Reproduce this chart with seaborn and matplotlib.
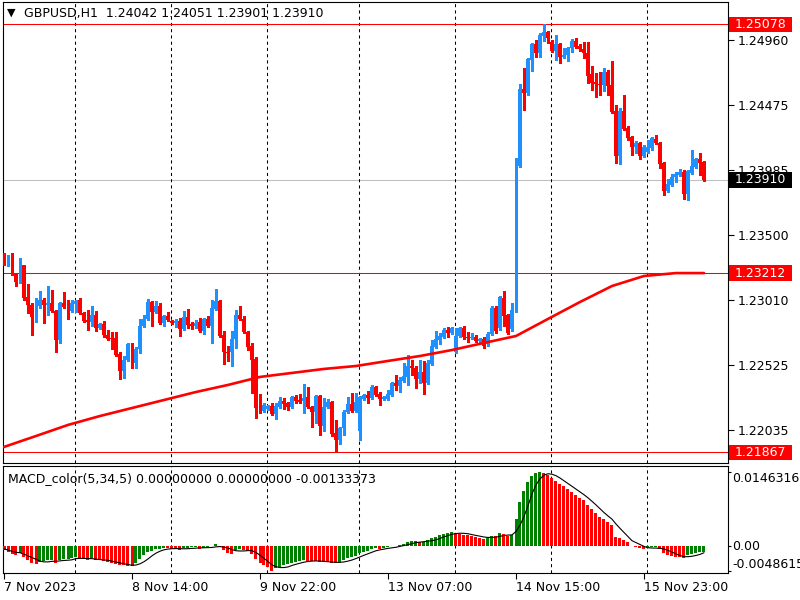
import numpy as np
import pandas as pd
import matplotlib
matplotlib.use("Agg")
import matplotlib.pyplot as plt
import matplotlib.transforms as mtransforms
from matplotlib.patches import Rectangle
import seaborn as sns

# -------------------------------
# Data: GBPUSD H1 candles (bar 0 = 7 Nov 2023 06:00)
# -------------------------------
open_ = [
    1.23348, 1.23288, 1.23340, 1.23213, 1.23145, 1.23273, 1.23033, 1.22973, 1.22883, 1.22965,
    1.23010, 1.22973, 1.22988, 1.22928, 1.22710, 1.22988, 1.22958, 1.22928, 1.22980, 1.23010,
    1.22913, 1.22860, 1.22845, 1.22898, 1.22800, 1.22830, 1.22748, 1.22725, 1.22725, 1.22605,
    1.22478, 1.22560, 1.22680, 1.22538, 1.22643, 1.22815, 1.22868, 1.22995, 1.22920, 1.22965,
    1.22838, 1.22890, 1.22853, 1.22838, 1.22853, 1.22793, 1.22883, 1.22830, 1.22815, 1.22845,
    1.22778, 1.22868, 1.22815, 1.22943, 1.23003, 1.22748, 1.22620, 1.22620, 1.22718, 1.22898,
    1.22868, 1.22770, 1.22665, 1.22568, 1.22208, 1.22178, 1.22193, 1.22215, 1.22155, 1.22208,
    1.22253, 1.22238, 1.22208, 1.22283, 1.22260, 1.22253, 1.22283, 1.22208, 1.22170, 1.22290,
    1.22065, 1.22208, 1.22245, 1.22013, 1.21960, 1.22050, 1.22170, 1.22230, 1.22178, 1.22028,
    1.22268, 1.22298, 1.22275, 1.22358, 1.22305, 1.22268, 1.22268, 1.22298, 1.22388, 1.22365,
    1.22403, 1.22433, 1.22515, 1.22500, 1.22418, 1.22470, 1.22388, 1.22530, 1.22658, 1.22710,
    1.22733, 1.22785, 1.22763, 1.22620, 1.22740, 1.22800, 1.22733, 1.22725, 1.22733, 1.22703,
    1.22718, 1.22680, 1.22755, 1.22950, 1.22800, 1.23025, 1.22898, 1.22793, 1.22928, 1.24015,
    1.24593, 1.24563, 1.24810, 1.24930, 1.24863, 1.24990, 1.25020, 1.24945, 1.24878, 1.24930,
    1.24833, 1.24848, 1.24900, 1.24953, 1.24915, 1.24893, 1.24863, 1.24705, 1.24645, 1.24630,
    1.24623, 1.24720, 1.24623, 1.24428, 1.24090, 1.24428, 1.24300, 1.24233, 1.24158, 1.24188,
    1.24090, 1.24120, 1.24150, 1.24218, 1.24188, 1.24038, 1.23828, 1.23873, 1.23933, 1.23948,
    1.23970, 1.23805, 1.23963, 1.24008, 1.24068, 1.24042,
]
high_ = [
    1.23363, 1.23348, 1.23363, 1.23213, 1.23325, 1.23273, 1.23130, 1.22988, 1.23025, 1.23078,
    1.23025, 1.23115, 1.23085, 1.22935, 1.22995, 1.23070, 1.23010, 1.23010, 1.23010, 1.23025,
    1.22920, 1.22935, 1.22965, 1.22928, 1.22838, 1.22853, 1.22785, 1.22770, 1.22770, 1.22620,
    1.22590, 1.22688, 1.22688, 1.22658, 1.22868, 1.22898, 1.23018, 1.23003, 1.23003, 1.22988,
    1.22898, 1.22920, 1.22860, 1.22868, 1.22875, 1.22928, 1.22943, 1.22845, 1.22860, 1.22875,
    1.22875, 1.22890, 1.23010, 1.23093, 1.23010, 1.22778, 1.22665, 1.22778, 1.22935, 1.22965,
    1.22890, 1.22778, 1.22688, 1.22583, 1.22305, 1.22238, 1.22223, 1.22238, 1.22238, 1.22283,
    1.22275, 1.22245, 1.22290, 1.22298, 1.22305, 1.22380, 1.22358, 1.22215, 1.22298, 1.22298,
    1.22275, 1.22268, 1.22253, 1.22110, 1.22058, 1.22185, 1.22283, 1.22313, 1.22313, 1.22290,
    1.22305, 1.22328, 1.22373, 1.22365, 1.22320, 1.22290, 1.22335, 1.22395, 1.22448, 1.22433,
    1.22538, 1.22598, 1.22560, 1.22515, 1.22560, 1.22553, 1.22560, 1.22710, 1.22778, 1.22763,
    1.22800, 1.22808, 1.22808, 1.22800, 1.22808, 1.22815, 1.22770, 1.22763, 1.22748, 1.22725,
    1.22733, 1.22770, 1.22965, 1.22965, 1.23040, 1.23078, 1.22905, 1.22988, 1.24075, 1.24630,
    1.24750, 1.24825, 1.24938, 1.24960, 1.25013, 1.25078, 1.25028, 1.24960, 1.24998, 1.24938,
    1.24900, 1.24908, 1.24968, 1.24975, 1.24930, 1.24945, 1.24945, 1.24765, 1.24713, 1.24720,
    1.24750, 1.24735, 1.24803, 1.24473, 1.24450, 1.24548, 1.24315, 1.24240, 1.24203, 1.24195,
    1.24173, 1.24210, 1.24233, 1.24248, 1.24195, 1.24045, 1.23918, 1.23955, 1.23970, 1.23993,
    1.23985, 1.23985, 1.24135, 1.24075, 1.24113, 1.24051,
]
low_ = [
    1.23273, 1.23265, 1.23198, 1.23115, 1.23138, 1.23010, 1.22913, 1.22748, 1.22845, 1.22950,
    1.22838, 1.22898, 1.22920, 1.22620, 1.22688, 1.22950, 1.22868, 1.22920, 1.22920, 1.22905,
    1.22845, 1.22785, 1.22815, 1.22778, 1.22793, 1.22733, 1.22710, 1.22643, 1.22590, 1.22418,
    1.22425, 1.22553, 1.22500, 1.22500, 1.22613, 1.22808, 1.22860, 1.22815, 1.22913, 1.22830,
    1.22815, 1.22853, 1.22830, 1.22808, 1.22740, 1.22785, 1.22800, 1.22793, 1.22800, 1.22770,
    1.22755, 1.22808, 1.22688, 1.22935, 1.22733, 1.22530, 1.22553, 1.22515, 1.22650, 1.22860,
    1.22763, 1.22635, 1.22313, 1.22125, 1.22163, 1.22170, 1.22185, 1.22148, 1.22118, 1.22200,
    1.22193, 1.22185, 1.22200, 1.22238, 1.22238, 1.22163, 1.22200, 1.22058, 1.22088, 1.21998,
    1.22028, 1.22200, 1.21990, 1.21867, 1.21930, 1.21998, 1.22163, 1.22170, 1.22170, 1.21960,
    1.22260, 1.22238, 1.22268, 1.22290, 1.22223, 1.22260, 1.22260, 1.22290, 1.22335, 1.22320,
    1.22395, 1.22373, 1.22448, 1.22350, 1.22388, 1.22305, 1.22380, 1.22523, 1.22650, 1.22680,
    1.22725, 1.22733, 1.22755, 1.22613, 1.22733, 1.22718, 1.22695, 1.22718, 1.22695, 1.22695,
    1.22650, 1.22665, 1.22748, 1.22763, 1.22785, 1.22815, 1.22755, 1.22778, 1.22920, 1.24008,
    1.24435, 1.24548, 1.24728, 1.24833, 1.24833, 1.24953, 1.24938, 1.24870, 1.24810, 1.24788,
    1.24825, 1.24803, 1.24870, 1.24900, 1.24878, 1.24825, 1.24638, 1.24585, 1.24533, 1.24548,
    1.24578, 1.24548, 1.24413, 1.24038, 1.24030, 1.24285, 1.24210, 1.24098, 1.24113, 1.24068,
    1.24083, 1.24113, 1.24135, 1.24180, 1.24000, 1.23798, 1.23820, 1.23865, 1.23895, 1.23940,
    1.23768, 1.23760, 1.23955, 1.24000, 1.23948, 1.23901,
]
close_ = [
    1.23280, 1.23340, 1.23205, 1.23145, 1.23273, 1.23025, 1.22973, 1.22883, 1.22965, 1.23010,
    1.22973, 1.22988, 1.22928, 1.22710, 1.22988, 1.22958, 1.22928, 1.22988, 1.23003, 1.22913,
    1.22853, 1.22845, 1.22898, 1.22800, 1.22830, 1.22748, 1.22718, 1.22718, 1.22598, 1.22478,
    1.22560, 1.22680, 1.22538, 1.22643, 1.22815, 1.22868, 1.22995, 1.22920, 1.22965, 1.22838,
    1.22890, 1.22860, 1.22838, 1.22853, 1.22793, 1.22883, 1.22823, 1.22815, 1.22838, 1.22778,
    1.22868, 1.22815, 1.22950, 1.23003, 1.22740, 1.22620, 1.22613, 1.22718, 1.22898, 1.22868,
    1.22770, 1.22658, 1.22560, 1.22200, 1.22178, 1.22223, 1.22215, 1.22155, 1.22215, 1.22253,
    1.22230, 1.22208, 1.22283, 1.22253, 1.22245, 1.22275, 1.22208, 1.22170, 1.22290, 1.22065,
    1.22208, 1.22245, 1.22005, 1.21960, 1.22050, 1.22170, 1.22230, 1.22178, 1.22245, 1.22283,
    1.22298, 1.22275, 1.22358, 1.22298, 1.22268, 1.22283, 1.22305, 1.22388, 1.22365, 1.22410,
    1.22440, 1.22515, 1.22500, 1.22418, 1.22470, 1.22388, 1.22538, 1.22665, 1.22718, 1.22740,
    1.22785, 1.22763, 1.22800, 1.22740, 1.22800, 1.22733, 1.22725, 1.22733, 1.22703, 1.22718,
    1.22665, 1.22755, 1.22950, 1.22778, 1.23033, 1.22890, 1.22763, 1.22935, 1.24023, 1.24593,
    1.24563, 1.24818, 1.24930, 1.24863, 1.24998, 1.25020, 1.24975, 1.24878, 1.24930, 1.24833,
    1.24848, 1.24900, 1.24953, 1.24908, 1.24893, 1.24863, 1.24690, 1.24638, 1.24630, 1.24623,
    1.24720, 1.24615, 1.24420, 1.24090, 1.24428, 1.24293, 1.24225, 1.24158, 1.24188, 1.24090,
    1.24158, 1.24158, 1.24225, 1.24188, 1.24030, 1.23828, 1.23880, 1.23933, 1.23955, 1.23970,
    1.23805, 1.23978, 1.24015, 1.24068, 1.24038, 1.23910,
]

# moving average (red line), read every 8 bars
ma_bar = [0, 8, 16, 24, 32, 40, 48, 56, 64, 72, 80, 88, 96, 104, 112, 120, 128, 136, 144, 152, 160, 168, 175]
ma_value = [
    1.21908, 1.21990, 1.22073, 1.22140, 1.22200, 1.22260, 1.22320, 1.22373, 1.22433, 1.22463,
    1.22493, 1.22515, 1.22553, 1.22590, 1.22635, 1.22688, 1.22740, 1.22868, 1.22995, 1.23115,
    1.23190, 1.23212, 1.23212,
]

# MACD_color(5,34,5) histogram and signal line
macd_hist = [
    -0.00079, -0.00112, -0.00165, -0.00178, -0.00132, -0.00224, -0.00277, -0.00330, -0.00349, -0.00316,
    -0.00297, -0.00277, -0.00277, -0.00343, -0.00277, -0.00257, -0.00250, -0.00237, -0.00224, -0.00250,
    -0.00264, -0.00270, -0.00244, -0.00277, -0.00283, -0.00297, -0.00316, -0.00330, -0.00356, -0.00369,
    -0.00382, -0.00395, -0.00402, -0.00330, -0.00250, -0.00178, -0.00119, -0.00092, -0.00066, -0.00059,
    -0.00040, -0.00046, -0.00053, -0.00059, -0.00072, -0.00046, -0.00033, -0.00026, -0.00026, -0.00053,
    -0.00033, -0.00026, -0.00007, 0.00033, -0.00026, -0.00079, -0.00132, -0.00152, -0.00079, -0.00053,
    -0.00072, -0.00099, -0.00158, -0.00250, -0.00330, -0.00382, -0.00422, -0.00486, -0.00435, -0.00409,
    -0.00382, -0.00362, -0.00336, -0.00316, -0.00303, -0.00283, -0.00290, -0.00297, -0.00303, -0.00310,
    -0.00316, -0.00323, -0.00330, -0.00336, -0.00310, -0.00277, -0.00244, -0.00217, -0.00191, -0.00145,
    -0.00119, -0.00092, -0.00066, -0.00046, -0.00059, -0.00040, -0.00026, -0.00007, 0.00007, 0.00026,
    0.00046, 0.00072, 0.00092, 0.00099, 0.00072, 0.00086, 0.00119, 0.00152, 0.00185, 0.00211,
    0.00237, 0.00250, 0.00277, 0.00257, 0.00244, 0.00224, 0.00211, 0.00191, 0.00178, 0.00165,
    0.00145, 0.00165, 0.00204, 0.00191, 0.00250, 0.00231, 0.00204, 0.00224, 0.00527, 0.00876,
    0.01087, 0.01259, 0.01390, 0.01437, 0.01463, 0.01450, 0.01404, 0.01344, 0.01292, 0.01232,
    0.01180, 0.01127, 0.01068, 0.01015, 0.00956, 0.00903, 0.00817, 0.00731, 0.00652, 0.00580,
    0.00527, 0.00481, 0.00415, 0.00171, 0.00152, 0.00119, 0.00086, 0.00000, -0.00020, -0.00040,
    -0.00066, -0.00046, -0.00026, -0.00026, -0.00066, -0.00132, -0.00178, -0.00198, -0.00211, -0.00224,
    -0.00244, -0.00178, -0.00158, -0.00132, -0.00119, -0.00112,
]
macd_signal = [
    -0.00059, -0.00079, -0.00105, -0.00125, -0.00133, -0.00162, -0.00195, -0.00228, -0.00262, -0.00299,
    -0.00314, -0.00314, -0.00303, -0.00302, -0.00294, -0.00286, -0.00281, -0.00273, -0.00249, -0.00244,
    -0.00245, -0.00249, -0.00250, -0.00261, -0.00268, -0.00274, -0.00283, -0.00301, -0.00316, -0.00333,
    -0.00351, -0.00366, -0.00381, -0.00376, -0.00352, -0.00311, -0.00256, -0.00194, -0.00141, -0.00103,
    -0.00075, -0.00061, -0.00053, -0.00051, -0.00054, -0.00055, -0.00053, -0.00047, -0.00041, -0.00037,
    -0.00034, -0.00033, -0.00029, -0.00017, -0.00012, -0.00021, -0.00042, -0.00071, -0.00094, -0.00099,
    -0.00098, -0.00091, -0.00092, -0.00127, -0.00182, -0.00244, -0.00308, -0.00373, -0.00410, -0.00426,
    -0.00426, -0.00414, -0.00385, -0.00361, -0.00340, -0.00320, -0.00306, -0.00298, -0.00295, -0.00297,
    -0.00303, -0.00310, -0.00316, -0.00323, -0.00323, -0.00315, -0.00299, -0.00277, -0.00248, -0.00215,
    -0.00183, -0.00153, -0.00123, -0.00094, -0.00076, -0.00061, -0.00047, -0.00036, -0.00025, -0.00008,
    0.00009, 0.00029, 0.00049, 0.00067, 0.00076, 0.00084, 0.00094, 0.00105, 0.00123, 0.00150,
    0.00181, 0.00207, 0.00232, 0.00246, 0.00253, 0.00250, 0.00243, 0.00225, 0.00210, 0.00194,
    0.00178, 0.00169, 0.00171, 0.00174, 0.00191, 0.00208, 0.00216, 0.00220, 0.00287, 0.00413,
    0.00584, 0.00795, 0.01028, 0.01210, 0.01327, 0.01400, 0.01429, 0.01419, 0.01390, 0.01344,
    0.01290, 0.01235, 0.01180, 0.01124, 0.01069, 0.01014, 0.00952, 0.00884, 0.00812, 0.00737,
    0.00662, 0.00594, 0.00531, 0.00435, 0.00349, 0.00268, 0.00188, 0.00105, 0.00067, 0.00029,
    -0.00008, -0.00034, -0.00040, -0.00041, -0.00046, -0.00059, -0.00086, -0.00120, -0.00157, -0.00188,
    -0.00211, -0.00211, -0.00203, -0.00187, -0.00166, -0.00133,
]

# bars where a new trading day starts (dashed separators)
day_start_bar = [18, 42, 66, 89, 113, 137, 161]

# time axis labels
time_tick_bar = [0, 32, 64, 96, 128, 160]
time_tick_label = ["7 Nov 2023", "8 Nov 14:00", "9 Nov 22:00", "13 Nov 07:00", "14 Nov 15:00", "15 Nov 23:00"]

# price axis
price_ticks = [1.24960, 1.24475, 1.23985, 1.23500, 1.23010, 1.22525, 1.22035]
high_line = 1.25078
low_line = 1.21867
ma_last = 1.23212
last_price = 1.23910

macd_ticks = [0.0146316, 0.0, -0.0048615]
macd_tick_label = ["0.0146316", "0.00", "-0.0048615"]

title_text = "GBPUSD,H1  1.24042 1.24051 1.23901 1.23910"
macd_text = "MACD_color(5,34,5) 0.00000000 0.00000000 -0.00133373"

# -------------------------------
# Style
# -------------------------------
BLUE = "#1E90FF"
RED = "#FF0000"
GREEN = "#008000"
FS = 9

sns.set_theme(style="white")
plt.rcParams["font.family"] = ["DejaVu Sans"]

df = pd.DataFrame({"open": open_, "high": high_, "low": low_, "close": close_})
df["bar"] = np.arange(len(df))
macd = pd.DataFrame({"bar": np.arange(len(macd_hist)), "hist": macd_hist, "signal": macd_signal})

fig = plt.figure(figsize=(8, 6), dpi=100)
ax = fig.add_axes([3 / 800, 137 / 600, 725 / 800, 461 / 600])
ax2 = fig.add_axes([3 / 800, 27 / 600, 725 / 800, 107 / 600])

# -------------------------------
# Main panel: candles
# -------------------------------
up = df["close"] >= df["open"]
candle_col = np.where(up, BLUE, RED)
ax.vlines(df["bar"], df["low"], df["high"], colors=candle_col, linewidth=0.75,
          antialiased=False, zorder=3)
body_bottom = np.minimum(df["open"], df["close"])
body_height = np.maximum((df["close"] - df["open"]).abs(), 0.00008)
ax.bar(df["bar"], body_height, bottom=body_bottom, width=0.75, color=candle_col,
       linewidth=0, antialiased=False, zorder=3)

sns.lineplot(x=ma_bar, y=ma_value, ax=ax, color=RED, linewidth=1.9, zorder=4)

for level in [high_line, low_line, ma_last]:
    ax.axhline(level, color=RED, linewidth=0.75, zorder=2)
ax.axhline(last_price, color="#C0C0C0", linewidth=0.75, zorder=1)

for d in day_start_bar:
    ax.axvline(d - 0.25, color="black", linewidth=0.75, linestyle=(0, (3, 3)), zorder=1)
    ax2.axvline(d - 0.25, color="black", linewidth=0.75, linestyle=(0, (3, 3)), zorder=1)

ax.set_xlim(-0.25, 181.0)
ax.set_ylim(1.217875, 1.25245)
ax.yaxis.tick_right()
ax.set_yticks(price_ticks)
ax.set_yticklabels([f"{p:.5f}" for p in price_ticks], fontsize=FS, color="black")
ax.set_xticks([])
ax.tick_params(axis="y", direction="out", length=4, width=0.8, pad=3, colors="black")
ax.set_xlabel("")
ax.set_ylabel("")

# price tags on the right axis
trans = mtransforms.blended_transform_factory(ax.transAxes, ax.transData)
for level, face in [(high_line, RED), (ma_last, RED), (low_line, RED), (last_price, "black")]:
    ax.add_patch(Rectangle((1.0014, level - 0.00058), 0.087, 0.00116, transform=trans,
                           facecolor=face, edgecolor="none", clip_on=False, zorder=10))
    ax.text(1.0095, level, f"{level:.5f}", transform=trans, ha="left", va="center",
            color="white", fontsize=FS, clip_on=False, zorder=11)

# -------------------------------
# MACD panel
# -------------------------------
hist = macd["hist"].to_numpy()
rising = np.r_[False, np.diff(hist) >= 0]
hist_col = np.where(rising, GREEN, RED)
ax2.bar(macd["bar"], macd["hist"], width=0.75, color=hist_col, linewidth=0,
        antialiased=False, zorder=3)
sns.lineplot(data=macd, x="bar", y="signal", ax=ax2, color="black", linewidth=0.8, zorder=4)

ax2.set_xlim(-0.25, 181.0)
ax2.set_ylim(-0.005338, 0.015817)
ax2.yaxis.tick_right()
ax2.set_yticks(macd_ticks)
ax2.set_yticklabels(macd_tick_label, fontsize=FS, color="black")
ax2.tick_params(axis="y", direction="out", length=2.5, width=0.8, pad=0.6, colors="black")
vas = ["top", "center", "bottom"]
for lbl, va in zip(ax2.get_yticklabels(), vas):
    lbl.set_verticalalignment(va)

ax2.set_xticks(time_tick_bar)
ax2.set_xticklabels(time_tick_label, fontsize=FS, color="black")
for lbl in ax2.get_xticklabels():
    lbl.set_horizontalalignment("left")
ax2.tick_params(axis="x", direction="out", length=4, width=0.8, pad=2, colors="black",
                bottom=True)
ax2.set_xlabel("")
ax2.set_ylabel("")

for a in (ax, ax2):
    for s in a.spines.values():
        s.set_color("black")
        s.set_linewidth(0.8)
        s.set_visible(True)

# -------------------------------
# Texts
# -------------------------------
fig.text(7 / 800, 1 - 13 / 600, "\u25BC", fontsize=8, va="center", ha="left", color="black")
fig.text(24 / 800, 1 - 13 / 600, title_text, fontsize=FS, va="center", ha="left", color="black")
fig.text(8 / 800, 1 - 479 / 600, macd_text, fontsize=FS, va="center", ha="left", color="black")

fig.savefig("out.png", dpi=100, facecolor="white")
print("saved out.png")
